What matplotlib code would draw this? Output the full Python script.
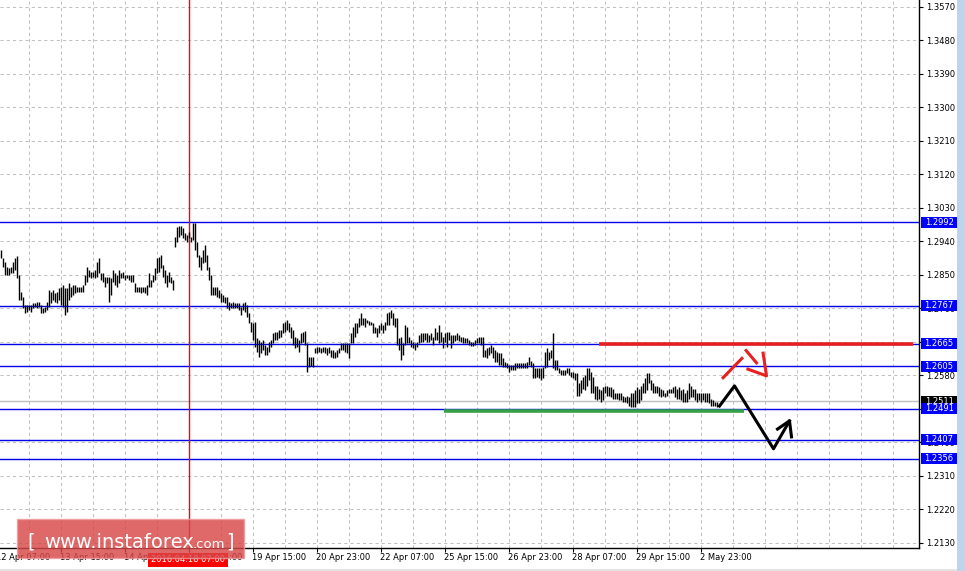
import matplotlib
matplotlib.use("Agg")
import matplotlib.pyplot as plt
import matplotlib.transforms as mtransforms
from matplotlib.patches import Rectangle

plt.rcParams['font.family'] = ['DejaVu Sans']

# hourly bars, high / low (bar index = hour number on the chart)
high = [
    1.2917, 1.2895, 1.2884, 1.2871, 1.2868, 1.2871, 1.2884, 1.2895, 1.2901, 1.2850,
    1.2804, 1.2790, 1.2769, 1.2769, 1.2769, 1.2769, 1.2774, 1.2775, 1.2777, 1.2777,
    1.2769, 1.2761, 1.2764, 1.2777, 1.2809, 1.2804, 1.2809, 1.2801, 1.2804, 1.2815,
    1.2817, 1.2823, 1.2815, 1.2815, 1.2828, 1.2817, 1.2823, 1.2823, 1.2817, 1.2817,
    1.2817, 1.2823, 1.2850, 1.2871, 1.2863, 1.2858, 1.2858, 1.2863, 1.2884, 1.2895,
    1.2855, 1.2855, 1.2844, 1.2844, 1.2844, 1.2842, 1.2863, 1.2855, 1.2850, 1.2863,
    1.2855, 1.2858, 1.2850, 1.2850, 1.2850, 1.2850, 1.2850, 1.2828, 1.2817, 1.2817,
    1.2817, 1.2817, 1.2817, 1.2823, 1.2855, 1.2836, 1.2850, 1.2868, 1.2895, 1.2898,
    1.2903, 1.2876, 1.2863, 1.2850, 1.2858, 1.2844, 1.2836, 1.2952, 1.2979, 1.2981,
    1.2981, 1.2976, 1.2962, 1.2957, 1.2965, 1.2952, 1.2990, 1.2990, 1.2938, 1.2903,
    1.2898, 1.2917, 1.2930, 1.2903, 1.2871, 1.2850, 1.2817, 1.2817, 1.2817, 1.2809,
    1.2801, 1.2796, 1.2790, 1.2790, 1.2777, 1.2774, 1.2777, 1.2774, 1.2776, 1.2774,
    1.2764, 1.2774, 1.2777, 1.2769, 1.2747, 1.2723, 1.2721, 1.2723, 1.2680, 1.2675,
    1.2669, 1.2675, 1.2661, 1.2656, 1.2669, 1.2675, 1.2694, 1.2696, 1.2696, 1.2702,
    1.2702, 1.2721, 1.2723, 1.2729, 1.2721, 1.2710, 1.2702, 1.2683, 1.2680, 1.2675,
    1.2694, 1.2696, 1.2699, 1.2667, 1.2629, 1.2629, 1.2629, 1.2653, 1.2656, 1.2656,
    1.2653, 1.2656, 1.2656, 1.2653, 1.2656, 1.2648, 1.2648, 1.2642, 1.2648, 1.2653,
    1.2667, 1.2667, 1.2667, 1.2667, 1.2667, 1.2694, 1.2710, 1.2721, 1.2721, 1.2734,
    1.2747, 1.2734, 1.2734, 1.2729, 1.2726, 1.2723, 1.2721, 1.2710, 1.2707, 1.2715,
    1.2721, 1.2715, 1.2723, 1.2747, 1.2750, 1.2755, 1.2747, 1.2734, 1.2734, 1.2680,
    1.2683, 1.2667, 1.2715, 1.2710, 1.2683, 1.2675, 1.2669, 1.2667, 1.2669, 1.2688,
    1.2694, 1.2694, 1.2694, 1.2694, 1.2688, 1.2694, 1.2683, 1.2707, 1.2696, 1.2715,
    1.2696, 1.2683, 1.2694, 1.2696, 1.2696, 1.2688, 1.2688, 1.2688, 1.2694, 1.2688,
    1.2683, 1.2683, 1.2680, 1.2680, 1.2675, 1.2669, 1.2669, 1.2675, 1.2680, 1.2683,
    1.2683, 1.2683, 1.2648, 1.2653, 1.2656, 1.2661, 1.2656, 1.2648, 1.2642, 1.2640,
    1.2640, 1.2626, 1.2615, 1.2613, 1.2607, 1.2607, 1.2607, 1.2613, 1.2613, 1.2613,
    1.2613, 1.2613, 1.2613, 1.2615, 1.2629, 1.2618, 1.2613, 1.2599, 1.2599, 1.2599,
    1.2599, 1.2602, 1.2642, 1.2653, 1.2642, 1.2648, 1.2694, 1.2621, 1.2621, 1.2599,
    1.2594, 1.2594, 1.2594, 1.2599, 1.2599, 1.2589, 1.2589, 1.2586, 1.2586, 1.2559,
    1.2567, 1.2575, 1.2580, 1.2599, 1.2599, 1.2589, 1.2575, 1.2553, 1.2553, 1.2545,
    1.2540, 1.2548, 1.2553, 1.2553, 1.2548, 1.2548, 1.2545, 1.2534, 1.2534, 1.2532,
    1.2532, 1.2526, 1.2521, 1.2526, 1.2521, 1.2532, 1.2534, 1.2540, 1.2548, 1.2545,
    1.2553, 1.2559, 1.2572, 1.2586, 1.2586, 1.2567, 1.2561, 1.2553, 1.2553, 1.2548,
    1.2545, 1.2540, 1.2534, 1.2540, 1.2545, 1.2545, 1.2548, 1.2553, 1.2545, 1.2548,
    1.2540, 1.2545, 1.2534, 1.2540, 1.2559, 1.2553, 1.2545, 1.2545, 1.2534, 1.2534,
    1.2534, 1.2532, 1.2532, 1.2532, 1.2532, 1.2518, 1.2513, 1.2508, 1.2508,
]
low = [
    1.2895, 1.2871, 1.2850, 1.2850, 1.2850, 1.2855, 1.2855, 1.2863, 1.2842, 1.2782,
    1.2782, 1.2761, 1.2747, 1.2750, 1.2755, 1.2750, 1.2761, 1.2764, 1.2761, 1.2764,
    1.2747, 1.2748, 1.2750, 1.2755, 1.2764, 1.2774, 1.2782, 1.2777, 1.2774, 1.2782,
    1.2769, 1.2764, 1.2742, 1.2750, 1.2782, 1.2790, 1.2796, 1.2801, 1.2804, 1.2804,
    1.2804, 1.2804, 1.2823, 1.2831, 1.2844, 1.2842, 1.2844, 1.2842, 1.2844, 1.2855,
    1.2836, 1.2831, 1.2817, 1.2828, 1.2777, 1.2796, 1.2831, 1.2823, 1.2817, 1.2828,
    1.2842, 1.2842, 1.2836, 1.2842, 1.2836, 1.2831, 1.2831, 1.2804, 1.2804, 1.2804,
    1.2801, 1.2804, 1.2801, 1.2796, 1.2817, 1.2817, 1.2831, 1.2836, 1.2855, 1.2858,
    1.2868, 1.2844, 1.2828, 1.2817, 1.2831, 1.2828, 1.2809, 1.2925, 1.2938, 1.2952,
    1.2957, 1.2949, 1.2944, 1.2938, 1.2949, 1.2938, 1.2944, 1.2917, 1.2898, 1.2871,
    1.2863, 1.2882, 1.2884, 1.2863, 1.2836, 1.2796, 1.2796, 1.2796, 1.2790, 1.2788,
    1.2777, 1.2777, 1.2774, 1.2761, 1.2755, 1.2761, 1.2761, 1.2761, 1.2761, 1.2755,
    1.2742, 1.2755, 1.2750, 1.2737, 1.2721, 1.2696, 1.2675, 1.2656, 1.2642, 1.2629,
    1.2640, 1.2648, 1.2634, 1.2634, 1.2642, 1.2656, 1.2667, 1.2675, 1.2675, 1.2680,
    1.2683, 1.2694, 1.2696, 1.2702, 1.2696, 1.2680, 1.2661, 1.2653, 1.2656, 1.2642,
    1.2667, 1.2669, 1.2661, 1.2589, 1.2602, 1.2605, 1.2602, 1.2640, 1.2640, 1.2642,
    1.2640, 1.2642, 1.2640, 1.2634, 1.2640, 1.2629, 1.2626, 1.2626, 1.2629, 1.2640,
    1.2648, 1.2648, 1.2642, 1.2640, 1.2626, 1.2667, 1.2667, 1.2683, 1.2694, 1.2710,
    1.2715, 1.2715, 1.2710, 1.2721, 1.2715, 1.2715, 1.2694, 1.2694, 1.2683, 1.2694,
    1.2702, 1.2694, 1.2702, 1.2715, 1.2715, 1.2734, 1.2715, 1.2710, 1.2661, 1.2648,
    1.2621, 1.2634, 1.2661, 1.2667, 1.2667, 1.2656, 1.2653, 1.2648, 1.2656, 1.2667,
    1.2669, 1.2669, 1.2675, 1.2669, 1.2669, 1.2675, 1.2661, 1.2675, 1.2675, 1.2667,
    1.2669, 1.2653, 1.2669, 1.2656, 1.2675, 1.2653, 1.2667, 1.2672, 1.2675, 1.2672,
    1.2669, 1.2667, 1.2667, 1.2667, 1.2661, 1.2659, 1.2659, 1.2661, 1.2667, 1.2667,
    1.2661, 1.2629, 1.2629, 1.2626, 1.2634, 1.2640, 1.2626, 1.2615, 1.2615, 1.2607,
    1.2607, 1.2602, 1.2602, 1.2599, 1.2589, 1.2594, 1.2594, 1.2594, 1.2599, 1.2599,
    1.2599, 1.2599, 1.2599, 1.2599, 1.2607, 1.2602, 1.2572, 1.2572, 1.2575, 1.2572,
    1.2567, 1.2572, 1.2599, 1.2602, 1.2621, 1.2626, 1.2599, 1.2594, 1.2594, 1.2586,
    1.2580, 1.2580, 1.2580, 1.2586, 1.2580, 1.2575, 1.2572, 1.2567, 1.2526, 1.2526,
    1.2532, 1.2545, 1.2540, 1.2553, 1.2567, 1.2532, 1.2532, 1.2518, 1.2513, 1.2518,
    1.2508, 1.2513, 1.2532, 1.2526, 1.2526, 1.2521, 1.2518, 1.2518, 1.2518, 1.2513,
    1.2513, 1.2508, 1.2508, 1.2505, 1.2499, 1.2494, 1.2494, 1.2494, 1.2505, 1.2505,
    1.2513, 1.2532, 1.2532, 1.2540, 1.2559, 1.2540, 1.2534, 1.2532, 1.2532, 1.2526,
    1.2521, 1.2526, 1.2521, 1.2526, 1.2532, 1.2532, 1.2532, 1.2521, 1.2518, 1.2518,
    1.2513, 1.2508, 1.2508, 1.2508, 1.2518, 1.2521, 1.2521, 1.2513, 1.2508, 1.2513,
    1.2508, 1.2513, 1.2508, 1.2508, 1.2505, 1.2499, 1.2499, 1.2499, 1.2494,
]

price_ticks = [1.3570, 1.3480, 1.3390, 1.3300, 1.3210, 1.3120, 1.3030, 1.2940, 1.2850,
               1.2760, 1.2670, 1.2580, 1.2490, 1.2400, 1.2310, 1.2220, 1.2130]
time_pos = [-2, 30, 62, 94, 126, 158, 190, 222, 254, 286, 318, 350]
time_labels = ["12 Apr 07:00", "13 Apr 15:00", "14 Apr 23:00", "18 Apr 07:00",
               "19 Apr 15:00", "20 Apr 23:00", "22 Apr 07:00", "25 Apr 15:00",
               "26 Apr 23:00", "28 Apr 07:00", "29 Apr 15:00", "2 May 23:00"]

levels = [1.2992, 1.2767, 1.2665, 1.2605, 1.2491, 1.2407, 1.2356]
bid = 1.2511
cursor_bar = 94
cursor_label = "2016.04.18 07:00"

# hand drawn marks: resistance (red), support (green), expected path, alt path
resist_bars, resist_price = [299, 456], 1.2665
support_bars, support_price = [221.5, 371.5], 1.2485
path_x = [359.5, 367, 386.5, 394.5]
path_y = [1.2498, 1.2552, 1.2383, 1.2458]
path_head_x = [388.5, 394.5, 395.5]
path_head_y = [1.2436, 1.2458, 1.2415]
alt_segs = [([361.3, 370.7], [1.2574, 1.2626]),
            ([372.8, 378.0], [1.2647, 1.2614]),
            ([381.3, 383.0, 373.7], [1.2640, 1.2579, 1.2597])]

W, H = 965, 571
fig = plt.figure(figsize=(W / 100, H / 100), dpi=100)
fig.patch.set_facecolor('white')
ax = fig.add_axes([0, 23 / H, 919 / W, 548 / H])
# quarter bar offset puts every bar on a pixel centre
ax.set_xlim(-0.25, 459.25)
ax.set_ylim(1.21165, 1.35888)

# grid
for p in price_ticks:
    ax.axhline(p, color='#c0c0c0', lw=0.75, ls=(0, (3, 3)), zorder=0)
for gx in range(14, 460, 16):
    ax.axvline(gx, color='#c0c0c0', lw=0.75, ls=(0, (3, 3)), zorder=0)

# levels
ax.axhline(bid, color='#c0c0c0', lw=1, zorder=1)
for lv in levels:
    ax.axhline(lv, color='#0000e6', lw=1, zorder=1)
ax.axvline(cursor_bar, color='#ff0000', lw=1, zorder=1)

# price bars
idx = list(range(len(high)))
ax.vlines(idx, low, high, colors='black', lw=1.0, zorder=2)

# annotations
ax.plot(resist_bars, [resist_price] * 2, color='#e62020', lw=2.6, solid_capstyle='butt', zorder=3)
ax.plot(support_bars, [support_price] * 2, color='#35a04a', lw=2.6, solid_capstyle='butt', zorder=3)
ax.plot(path_x, path_y, color='black', lw=2.2, zorder=4)
ax.plot(path_head_x, path_head_y, color='black', lw=2.2, zorder=4)
for sx, sy in alt_segs:
    ax.plot(sx, sy, color='#e82020', lw=2.2, zorder=4)

# axes look
for s in ['left', 'top']:
    ax.spines[s].set_visible(False)
ax.spines['right'].set_linewidth(1)
ax.spines['bottom'].set_linewidth(1)
ax.yaxis.tick_right()
ax.set_yticks(price_ticks)
ax.set_yticklabels(['%.4f' % p for p in price_ticks])
ax.tick_params(axis='y', length=3, pad=2, labelsize=6, colors='black')
ax.set_xticks([t for t in time_pos if t >= 0])
ax.tick_params(axis='x', length=3, labelbottom=False)

xtr = mtransforms.blended_transform_factory(ax.transData, ax.transAxes)
for t, lab in zip(time_pos, time_labels):
    ax.text(t, -0.009, lab, transform=xtr, ha='left', va='top', fontsize=6, clip_on=False)

# price boxes on the right scale
ytr = mtransforms.blended_transform_factory(ax.transAxes, ax.transData)
bh = 11 * 0.00026867
bx, bw = 1.0022, 0.0392
boxes = [(bid, 'black')] + [(lv, '#0000ff') for lv in levels]
for lv, col in boxes:
    ax.add_patch(Rectangle((bx, lv - bh / 2), bw, bh, transform=ytr, clip_on=False,
                           facecolor=col, edgecolor='none', zorder=6))
    ax.text(bx + bw / 2, lv, '%.4f' % lv, transform=ytr, ha='center', va='center',
            color='white', fontsize=6, clip_on=False, zorder=7)

# cursor time box
fig.patches.append(Rectangle((148 / W, 1 - 567 / H), 80 / W, 14 / H, transform=fig.transFigure,
                             facecolor='#ff0000', edgecolor='none', zorder=5))
fig.text(188 / W, 1 - 560 / H, cursor_label, ha='center', va='center', color='white',
         fontsize=6, zorder=6)

# scrollbar strip
fig.patches.append(Rectangle((957 / W, 0), 8 / W, 1, transform=fig.transFigure,
                             facecolor='#bcd4ec', edgecolor='none', zorder=1))
fig.patches.append(Rectangle((0, 0), 957 / W, 2 / H, transform=fig.transFigure,
                             facecolor='#e4e4e4', edgecolor='none', zorder=1))

# watermark
fig.patches.append(Rectangle((17 / W, 1 - 558 / H), 227 / W, 39 / H, transform=fig.transFigure,
                             facecolor='#d84848', edgecolor='#ee9a9a', lw=1, alpha=0.82, zorder=8))
fig.text(27 / W, 1 - 548 / H, '[', color='white', fontsize=14, zorder=9)
fig.text(44 / W, 1 - 548 / H, 'www.instaforex', color='white', fontsize=14, zorder=9)
fig.text(193 / W, 1 - 548 / H, '.com', color='white', fontsize=9.5, zorder=9)
fig.text(226 / W, 1 - 548 / H, ']', color='white', fontsize=14, zorder=9)

fig.savefig('out.png', dpi=100)
